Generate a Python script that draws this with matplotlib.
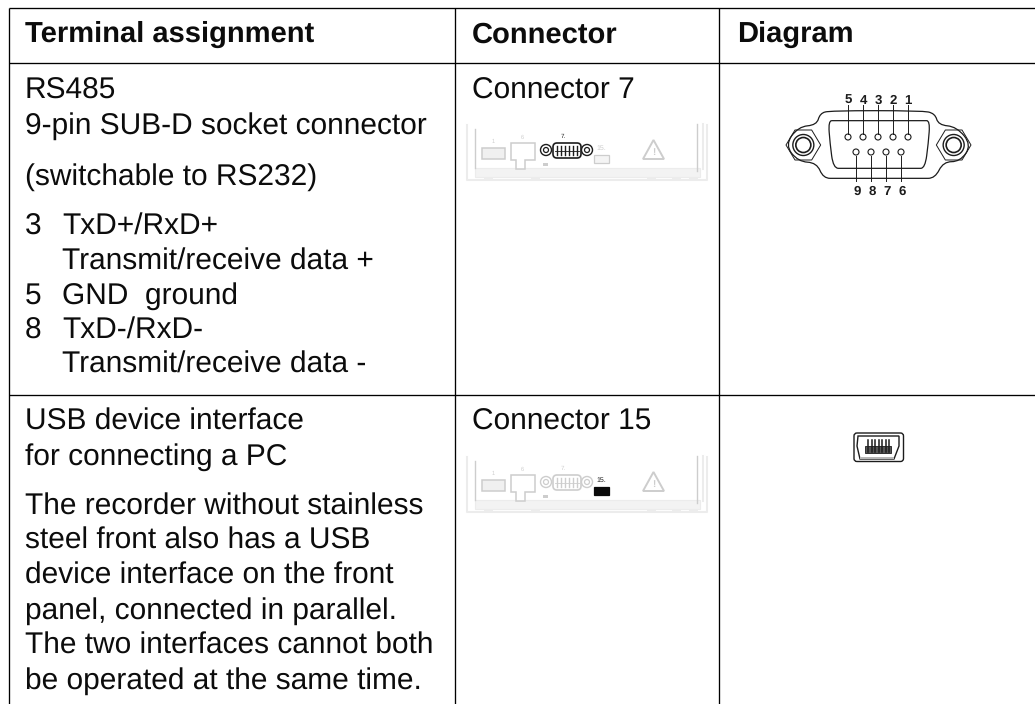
import matplotlib
matplotlib.use('Agg')
import matplotlib.pyplot as plt
from matplotlib.patches import Circle, FancyBboxPatch, PathPatch, Polygon, Rectangle
from matplotlib.path import Path

plt.rcParams['font.family'] = ['Liberation Sans', 'DejaVu Sans']
plt.rcParams['text.hinting'] = 'no_hinting'

headers = ['Terminal assignment', 'Connector', 'Diagram']
header_x = [25, 472, 737]
left_lines = ['RS485', '9-pin SUB-D socket connector', '(switchable to RS232)',
              'Transmit/receive data +', 'Transmit/receive data -',
              'USB device interface', 'for connecting a PC',
              'The recorder without stainless', 'steel front also has a USB',
              'device interface on the front', 'panel, connected in parallel.',
              'The two interfaces cannot both', 'be operated at the same time.']
left_x = [25, 25, 25, 62.5, 62.5, 25, 25, 25, 25, 25, 25, 25, 25]
left_y = [98.3, 133.3, 185, 269.3, 372.7, 430, 464.3, 514.3, 549, 584, 618.3, 653.3, 688.3]
pin_numbers = ['3', '5', '8']
pin_names = ['TxD+/RxD+', 'GND  ground', 'TxD-/RxD-']
pin_y = [235, 304, 338.3]
connectors = ['Connector 7', 'Connector 15']
connector_y = [98.3, 430]
top_pins = ['5', '4', '3', '2', '1']
bottom_pins = ['9', '8', '7', '6']

col_x = [8.5, 454.5, 719]
row_y = [7.5, 63, 394.5]
TEXT = '#0c0c0c'
GREY = '#cdcdcd'
PALE = '#ececec'
DARK = '#1c1c1c'
BODY = 21.5
HEAD = 21.0


def new_axes():
    fig = plt.figure(figsize=(10.35, 7.04), dpi=100)
    ax = fig.add_axes([0, 0, 1, 1])
    ax.set_xlim(0, 1035)
    ax.set_ylim(704, 0)
    ax.axis('off')
    return fig, ax


def smooth_closed(pts):
    # closed quadratic spline through the midpoints of pts
    mids = [((pts[i][0] + pts[(i + 1) % len(pts)][0]) / 2,
             (pts[i][1] + pts[(i + 1) % len(pts)][1]) / 2) for i in range(len(pts))]
    verts = [mids[-1]]
    codes = [Path.MOVETO]
    for i in range(len(pts)):
        verts += [pts[i], mids[i]]
        codes += [Path.CURVE3, Path.CURVE3]
    return Path(verts, codes)


def z(pts):
    # from the 3x crop at (780, 80) to picture pixels
    return [(780 + x / 3, 80 + y / 3) for x, y in pts]


def draw_connector_strip(ax, y0, active):
    x0 = 467
    # pale frame and base band of the recorder's back panel
    ax.plot([x0, x0, x0 + 240, x0 + 240], [y0 + 2, y0 + 57, y0 + 57, y0 + 2], color=PALE, lw=1.5)
    ax.add_patch(Rectangle((x0 + 8, y0 + 45), 225, 9, fc='#f3f3f3', ec=PALE, lw=0.8))
    ax.plot([x0 + 8, x0 + 8], [y0 + 6, y0 + 45], color=GREY, lw=1)
    ax.plot([x0 + 230, x0 + 230], [y0 + 1, y0 + 48], color=GREY, lw=1)
    ax.plot([x0 + 236, x0 + 236], [y0 + 1, y0 + 46], color=PALE, lw=1.5)
    for bx in (x0 + 17, x0 + 64, x0 + 180, x0 + 205, x0 + 222):
        ax.add_patch(Rectangle((bx, y0 + 54), 9, 3, fc=PALE, ec='none'))
    # usb socket, network socket
    ax.add_patch(Rectangle((x0 + 15, y0 + 25), 23, 11, fc='#f0f0f0', ec=GREY, lw=1.1))
    ax.add_patch(Polygon([[x0 + 44, y0 + 20], [x0 + 68, y0 + 20], [x0 + 68, y0 + 37], [x0 + 58, y0 + 37],
                          [x0 + 58, y0 + 46], [x0 + 49, y0 + 46], [x0 + 49, y0 + 37], [x0 + 44, y0 + 37]],
                         closed=True, fc='white', ec=GREY, lw=1.1))
    ax.text(x0 + 26, y0 + 18, '1', color=GREY, fontsize=4, ha='center', va='center')
    ax.text(x0 + 55, y0 + 14, '6', color=GREY, fontsize=4, ha='center', va='center')
    # warning triangle
    ax.add_patch(Polygon([[x0 + 176, y0 + 36], [x0 + 186.5, y0 + 17], [x0 + 197, y0 + 36]],
                         closed=True, fc='white', ec=GREY, lw=1.4))
    ax.text(x0 + 186.5, y0 + 29, '!', color=GREY, fontsize=7, ha='center', va='center', fontweight='bold')
    # sub-d socket, dark when it is the one meant
    vga = DARK if active == 0 else GREY
    ax.add_patch(FancyBboxPatch((x0 + 86, y0 + 20), 28, 15, boxstyle='round,pad=0,rounding_size=4',
                                fc='white', ec=vga, lw=1.2))
    for cx in (x0 + 79, x0 + 120):
        ax.add_patch(Circle((cx, y0 + 27), 5.5, fc='white', ec=vga, lw=1))
        ax.add_patch(Circle((cx, y0 + 27), 2.5, fc='white', ec=vga, lw=0.9))
    for k in range(6):
        ax.plot([x0 + 90 + k * 4] * 2, [y0 + 23, y0 + 32], color=vga, lw=1)
    ax.plot([x0 + 88, x0 + 112], [y0 + 27.5, y0 + 27.5], color=vga, lw=0.6)
    ax.text(x0 + 96, y0 + 13, '7.', fontsize=4.5, ha='center', va='center',
            color=DARK if active == 0 else GREY)
    ax.add_patch(Rectangle((x0 + 76, y0 + 40), 5, 3, fc=GREY, ec='none'))
    # mini usb socket
    usb = '#0a0a0a' if active == 1 else GREY
    ax.add_patch(Rectangle((x0 + 127, y0 + 32), 15, 7.5, fc=usb if active == 1 else '#f4f4f4', ec=usb, lw=0.9))
    ax.text(x0 + 134, y0 + 25, '15.', fontsize=5, ha='center', va='center',
            color=DARK if active == 1 else GREY)


def draw_sub_d(ax):
    outer = [(150, 92), (425, 92), (465, 100), (475, 135), (530, 140), (575, 195), (540, 245), (490, 245),
             (465, 295), (425, 295), (170, 295), (130, 295), (110, 248), (55, 245), (15, 195), (55, 140),
             (110, 135), (120, 100)]
    inner = [(165, 122), (430, 122), (450, 122), (445, 190), (435, 265), (410, 265), (190, 265),
             (160, 265), (150, 190), (145, 122)]
    ax.add_patch(PathPatch(smooth_closed(z(outer)), fill=False, ec=DARK, lw=0.9))
    ax.add_patch(PathPatch(smooth_closed(z(inner)), fill=False, ec=DARK, lw=0.9))
    for c in (70, 521):
        hexagon = [(c - 52, 195), (c - 25, 150), (c + 25, 150), (c + 52, 195), (c + 25, 240), (c - 25, 240)]
        ax.add_patch(Polygon(z(hexagon), closed=True, fill=False, ec=DARK, lw=0.7))
        cx, cy = z([(c, 195)])[0]
        ax.add_patch(Circle((cx, cy), 10.5, fill=False, ec=DARK, lw=1.0))
        ax.add_patch(Circle((cx, cy), 7.5, fill=False, ec=DARK, lw=1.2))
    for i, lab in enumerate(top_pins):
        x = 848 + i * 15
        ax.plot([x, x], [105, 133.5], color=DARK, lw=0.7)
        ax.add_patch(Circle((x, 137), 3, fc='white', ec=DARK, lw=0.8))
        ax.text(x, 103.5, lab, fontsize=9.5, fontweight='bold', ha='center', va='baseline', color=DARK)
    for i, lab in enumerate(bottom_pins):
        x = 856 + i * 15
        ax.plot([x, x], [155.5, 181], color=DARK, lw=0.7)
        ax.add_patch(Circle((x, 152), 3, fc='white', ec=DARK, lw=0.8))
        ax.text(x + 1, 195, lab, fontsize=9.5, fontweight='bold', ha='center', va='baseline', color=DARK)


def draw_mini_usb(ax):
    ax.add_patch(FancyBboxPatch((854, 433), 49.5, 28.5, boxstyle='round,pad=0,rounding_size=3',
                                fc='white', ec=DARK, lw=1))
    ax.add_patch(Polygon([[858, 436], [899, 436], [899, 446], [894, 459], [860, 459], [857, 446]],
                         closed=True, fc='white', ec=DARK, lw=1))
    ax.add_patch(Rectangle((860, 456.5), 34, 2.5, fc='#b8b8b8', ec='none'))
    ax.add_patch(Rectangle((865, 446), 26, 7, fc='#555555', ec=DARK, lw=0.6))
    for k in range(7):
        ax.plot([868 + k * 3.5] * 2, [440, 452], color=DARK, lw=1.1)


fig, ax = new_axes()

# table rules, open on the right and at the bottom
for y in row_y:
    ax.plot([col_x[0], 1035], [y, y], color='black', lw=0.95, solid_capstyle='butt')
for x in col_x:
    ax.plot([x, x], [row_y[0], 704], color='black', lw=0.95, solid_capstyle='butt')

for x, h in zip(header_x, headers):
    ax.text(x, 42.3, h, fontsize=HEAD, fontweight='bold', ha='left', va='baseline', color=TEXT)

for x, y, s in zip(left_x, left_y, left_lines):
    ax.text(x, y, s, fontsize=BODY, ha='left', va='baseline', color=TEXT)

for y, num, name in zip(pin_y, pin_numbers, pin_names):
    ax.text(25, y, num, fontsize=BODY, ha='left', va='baseline', color=TEXT)
    ax.text(62.5, y, name, fontsize=BODY, ha='left', va='baseline', color=TEXT)

for y, s in zip(connector_y, connectors):
    ax.text(472, y, s, fontsize=BODY, ha='left', va='baseline', color=TEXT)

draw_connector_strip(ax, 123, 0)
draw_connector_strip(ax, 455, 1)
draw_sub_d(ax)
draw_mini_usb(ax)

fig.savefig('out.png', dpi=100)
